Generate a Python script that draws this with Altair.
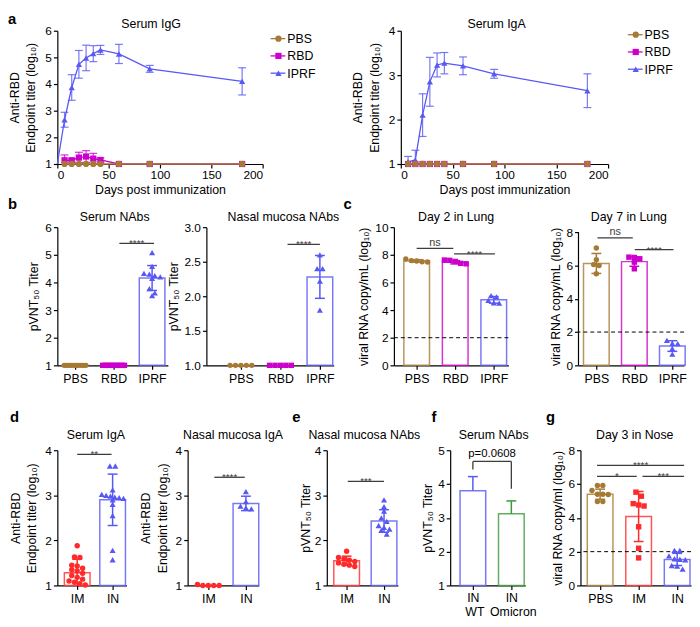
import json
import altair as alt
import pandas as pd

FONT = "Liberation Sans"
C_PBS = "#A67A35"
C_RBD = "#CC00CC"
C_IPRF = "#5858F5"
C_IM = "#FF2A2A"
C_OMI = "#3A9A3A"
C_SIG = "#3C3C3C"

# ---------------- a: time courses ----------------
days = [7, 14, 21, 28, 35, 42, 60, 90, 180]
igg_pbs = [1.0] * 9
igg_pbs_sd = [0] * 9
igg_rbd = [1.14, 1.14, 1.24, 1.28, 1.20, 1.15, 1.0, 1.0, 1.0]
igg_rbd_sd = [0.20, 0.07, 0.20, 0.22, 0.20, 0.08, 0, 0, 0]
igg_iprf = [2.66, 3.87, 4.74, 4.98, 5.14, 5.28, 5.13, 4.57, 4.10]
igg_iprf_sd = [0.28, 0.48, 0.52, 0.48, 0.30, 0.17, 0.36, 0.13, 0.51]
igg_iprf_day0 = 1.0
iga_pbs = [1.0] * 9
iga_rbd = [1.0] * 9
iga_zero_sd = [0] * 9
iga_iprf = [1.05, 1.09, 2.10, 2.85, 3.23, 3.27, 3.21, 3.03, 2.65]
iga_iprf_sd = [0.12, 0.22, 0.48, 0.55, 0.27, 0.24, 0.20, 0.10, 0.38]
legend_groups = ["PBS", "RBD", "IPRF"]

# ---------------- b ----------------
b_groups = ["PBS", "RBD", "IPRF"]
serum_nab_pbs = [1.0] * 10
serum_nab_rbd = [1.0] * 10
serum_nab_iprf = [5.08, 4.58, 4.33, 4.30, 4.25, 4.20, 4.15, 3.78, 3.62, 3.52]
serum_nab_mean = [1.0, 1.0, 4.16]
serum_nab_sd = [0, 0, 0.45]
nasal_nab_pbs = [1.0] * 5
nasal_nab_rbd = [1.0] * 5
nasal_nab_iprf = [2.60, 2.40, 2.40, 2.22, 1.80]
nasal_nab_mean = [1.0, 1.0, 2.28]
nasal_nab_sd = [0, 0, 0.31]

# ---------------- c ----------------
lung_d2_pbs = [7.70, 7.58, 7.55, 7.50, 7.48]
lung_d2_rbd = [7.62, 7.60, 7.52, 7.38, 7.35]
lung_d2_iprf = [5.05, 4.95, 4.70, 4.52, 4.50]
lung_d2_mean = [7.56, 7.46, 4.74]
lung_d2_sd = [0.09, 0.12, 0.24]
lung_d7_pbs = [7.05, 6.35, 6.05, 6.00, 5.50]
lung_d7_rbd = [6.50, 6.48, 6.40, 6.20, 5.80]
lung_d7_iprf = [1.50, 1.32, 1.30, 1.00, 0.67]
lung_d7_mean = [6.12, 6.23, 1.16]
lung_d7_sd = [0.60, 0.28, 0.32]

# ---------------- d / e ----------------
route_groups = ["IM", "IN"]
serum_iga_im = [1.88, 1.63, 1.62, 1.45, 1.43, 1.38, 1.35, 1.32, 1.27, 1.22, 1.18, 1.14, 1.10, 1.07, 1.04, 1.01]
serum_iga_in = [3.65, 3.65, 3.12, 3.02, 3.00, 2.98, 2.96, 2.95, 2.93, 2.90, 2.80, 2.55, 1.78, 1.57]
serum_iga_mean = [1.28, 2.90]
serum_iga_sd = [0.30, 0.57]
nasal_iga_im = [1.02, 1.0, 1.0, 1.0, 1.0]
nasal_iga_in = [3.08, 2.86, 2.76, 2.72, 2.70]
nasal_iga_mean = [1.0, 2.82]
nasal_iga_sd = [0, 0.16]
nasal_nab2_im = [1.76, 1.62, 1.59, 1.56, 1.53, 1.50, 1.47, 1.45, 1.42]
nasal_nab2_in = [2.90, 2.75, 2.65, 2.50, 2.42, 2.33, 2.29, 2.25, 2.22, 2.14]
nasal_nab2_mean = [1.55, 2.43]
nasal_nab2_sd = [0.10, 0.25]

# ---------------- f ----------------
variant_route = ["IN", "IN"]
variant_names = ["WT", "Omicron"]
variant_mean = [3.80, 3.12]
variant_sd = [0.42, 0.38]
variant_p = "p=0.0608"
bracket_y = 4.67
bracket_left_end = 4.43
bracket_right_end = 3.86

# ---------------- g ----------------
g_groups = ["PBS", "IM", "IN"]
nose_pbs = [5.92, 5.92, 5.62, 5.40, 5.40, 5.38, 4.96, 4.96]
nose_im = [5.52, 5.28, 4.84, 4.76, 4.70, 3.47, 2.20, 1.63]
nose_in = [2.08, 2.08, 1.75, 1.58, 1.55, 1.52, 1.18, 1.15, 0.97]
nose_mean = [5.40, 4.08, 1.54]
nose_sd = [0.30, 1.48, 0.36]

# significance annotations: (from, to, level, label)
sig_b1 = [(1.15, 2.05, 5.41, "****")]
sig_b2 = [(1.18, 2.0, 2.75, "****")]
sig_c1 = [(0.0, 0.95, 8.47, "ns"), (0.97, 2.03, 8.07, "****")]
sig_c2 = [(0.03, 0.96, 7.66, "ns"), (1.01, 2.03, 6.95, "****")]
sig_d1 = [(0.0, 0.97, 3.91, "**")]
sig_d2 = [(0.16, 0.97, 3.40, "****")]
sig_e = [(0.03, 1.0, 3.31, "***")]
sig_g = [(-0.08, 2.18, 7.10, "****"), (-0.08, 0.95, 6.45, "*"), (1.10, 2.18, 6.45, "***")]

H1, H2, H3 = 135, 140, 137
GRP_COL = {"PBS": C_PBS, "RBD": C_RBD, "IPRF": C_IPRF}
GRP_SHP = {"PBS": "circle", "RBD": "square", "IPRF": "triangle-up"}


def txt(t, x, y, size=12.5, weight="normal", align="center", color="black"):
    return alt.Chart(pd.DataFrame({"t": [t]})).mark_text(
        font=FONT, fontSize=size, fontWeight=weight, align=align,
        baseline="alphabetic", color=color
    ).encode(text="t:N", x=alt.value(x), y=alt.value(y))


def swarm_offsets(vals, ypx, maxw=22.0, gap=5.5, tol=4.5):
    order = sorted(range(len(vals)), key=lambda i: -vals[i])
    rows = []
    for i in order:
        if rows and (vals[rows[-1][0]] - vals[i]) * ypx <= tol:
            rows[-1].append(i)
        else:
            rows.append([i])
    off = [0.0] * len(vals)
    for r in rows:
        n = len(r)
        if n > 1:
            sp = min(gap, maxw / (n - 1))
            for k, i in enumerate(r):
                off[i] = (k - (n - 1) / 2) * sp
    return off


def legend_layers(x0, y0, step=17.5):
    out = []
    dummy = pd.DataFrame({"k": [0]})
    for k, g in enumerate(legend_groups):
        yy = y0 + k * step
        out.append(alt.Chart(dummy).mark_rule(color=GRP_COL[g], strokeWidth=1.3).encode(
            x=alt.value(x0), x2=alt.value(x0 + 15), y=alt.value(yy)))
        out.append(alt.Chart(dummy).mark_point(shape=GRP_SHP[g], filled=True, size=40, opacity=1,
                                               color=GRP_COL[g]).encode(
            x=alt.value(x0 + 8), y=alt.value(yy)))
        out.append(txt(g, x0 + 17, yy + 4.5, size=12.5, align="left"))
    return out


def time_panel(groups, ydom, yticks, title, w, h, title_dx, leg_xy, letter=None, letter_xy=(0, 0)):
    rows, lines = [], []
    for name, vals, sds, start in groups:
        if start is not None:
            lines.append({"day": 0, "val": start, "ln": name})
        for d, v, s in zip(days, vals, sds):
            rows.append({"day": d, "val": v, "sd": s, "lo": max(v - s, ydom[0]),
                         "hi": v + s, "grp": name, "ln": name, "haslo": (v - s) > ydom[0]})
            lines.append({"day": d, "val": v, "ln": name})
    df = pd.DataFrame(rows)
    ldf = pd.DataFrame(lines)
    edf = df[df.sd > 0]
    caps = [{"day": r.day, "y": r.hi, "ln": r.ln} for r in edf.itertuples()]
    caps += [{"day": r.day, "y": r.lo, "ln": r.ln} for r in edf.itertuples() if r.haslo]
    cdf = pd.DataFrame(caps)
    xsc = alt.Scale(domain=[0, 200], nice=False, padding=0)
    ysc = alt.Scale(domain=list(ydom), nice=False, zero=False, padding=0)
    xax = alt.Axis(values=[0, 50, 100, 150, 200], title="Days post immunization", titlePadding=3)
    yax = alt.Axis(values=yticks, format="d", title=["Anti-RBD", "Endpoint titer (log₁₀)"],
                   titleLineHeight=17, titlePadding=7)

    def X(f):
        return alt.X(f, type="quantitative", scale=xsc, axis=xax)

    def Y(f):
        return alt.Y(f, type="quantitative", scale=ysc, axis=yax)

    dom = legend_groups
    rng = [GRP_COL[g] for g in dom]
    stroke = alt.Stroke("ln:N", scale=alt.Scale(domain=dom, range=rng), legend=None)
    color = alt.Color("grp:N", scale=alt.Scale(domain=dom, range=rng), legend=None)
    shape = alt.Shape("grp:N", scale=alt.Scale(domain=dom, range=[GRP_SHP[g] for g in dom]), legend=None)
    layers = [
        alt.Chart(ldf).mark_line(strokeWidth=1.3).encode(x=X("day"), y=Y("val"), stroke=stroke),
        alt.Chart(edf).mark_rule(strokeWidth=1.2, strokeOpacity=0.8).encode(
            x=X("day"), y=Y("lo"), y2=alt.Y2("hi"), stroke=stroke),
        alt.Chart(cdf).mark_rule(strokeWidth=1.2, strokeOpacity=0.8, xOffset=-4, x2Offset=4).encode(
            x=X("day"), x2=alt.X2("day"), y=Y("y"), stroke=stroke),
        alt.Chart(df).mark_point(filled=True, size=40, opacity=1).encode(
            x=X("day"), y=Y("val"), color=color, shape=shape),
        txt(title, w / 2 + title_dx, -3),
    ]
    layers += legend_layers(leg_xy[0], leg_xy[1])
    if letter:
        layers.append(txt(letter, letter_xy[0], letter_xy[1], size=15, weight="bold", align="left"))
    return alt.layer(*layers).properties(width=w, height=h)


def bar_panel(labels, cols, shps, pts, means, sds, ydom, yticks, ytitle, title, w, h, xdom,
              title_dx=0.0, title_y=-6, letter=None, letter_xy=(0, 0), sigs=(), dashed=None,
              yfmt="d", up_only=False, bracket=None, ytitle_pad=4, yaxis_top=None, sublabels=None):
    n = len(labels)
    ypx = h / (ydom[1] - ydom[0])
    xpx = w / (xdom[1] - xdom[0])
    xsc = alt.Scale(domain=list(xdom), nice=False, zero=False, padding=0)
    ysc = alt.Scale(domain=list(ydom), nice=False, zero=False, padding=0)
    xax = alt.Axis(values=list(range(n)), labelExpr=json.dumps(labels) + "[datum.value]",
                   title=None, labelFontSize=12.5, labelPadding=2 if sublabels else 3)
    yax = alt.Axis(values=yticks, format=yfmt, title=ytitle, titlePadding=ytitle_pad,
                   titleLineHeight=17, domain=yaxis_top is None)

    def X(f):
        return alt.X(f, type="quantitative", scale=xsc, axis=xax)

    def Y(f):
        return alt.Y(f, type="quantitative", scale=ysc, axis=yax)

    layers = []
    bdf = pd.DataFrame({"x": list(range(n)), "m": means, "b": ydom[0], "c": cols})
    bdf = bdf[bdf.m > ydom[0]]
    layers.append(alt.Chart(bdf).mark_bar(size=26, fill="white", strokeWidth=1.5, strokeOpacity=0.8).encode(
        x=X("x"), y=Y("m"), y2=alt.Y2("b"), stroke=alt.Stroke("c:N", scale=None)))
    if yaxis_top is not None:
        layers.append(alt.Chart(pd.DataFrame({"x": [xdom[0]], "y0": [ydom[0]], "y1": [yaxis_top]})).mark_rule(
            color="black", strokeWidth=1.2).encode(x=X("x"), y=Y("y0"), y2=alt.Y2("y1")))
    if dashed is not None:
        layers.append(alt.Chart(pd.DataFrame({"v": [dashed]})).mark_rule(
            color="black", strokeDash=[4, 3], strokeWidth=1).encode(y=Y("v")))
    if pts:
        prow = []
        for i, vals in enumerate(pts):
            offs = swarm_offsets(vals, ypx)
            for v, o in zip(vals, offs):
                prow.append({"x": i + o / xpx, "v": v, "c": cols[i], "s": shps[i],
                             "z": 38 if shps[i] == "triangle-up" else 30})
        pdf = pd.DataFrame(prow)
        layers.append(alt.Chart(pdf).mark_point(filled=True, opacity=1).encode(
            x=X("x"), y=Y("v"), color=alt.Color("c:N", scale=None),
            shape=alt.Shape("s:N", scale=None), size=alt.Size("z:Q", scale=None)))
    erows, crows = [], []
    for i in range(n):
        if sds[i] > 0:
            m, s = means[i], sds[i]
            lo = m if up_only else max(m - s, ydom[0])
            erows.append({"x": i, "lo": lo, "hi": m + s, "c": cols[i]})
            crows.append({"x": i, "y": m + s, "c": cols[i]})
            if not up_only and m - s > ydom[0]:
                crows.append({"x": i, "y": m - s, "c": cols[i]})
    if erows:
        layers.append(alt.Chart(pd.DataFrame(erows)).mark_rule(strokeWidth=1.5).encode(
            x=X("x"), y=Y("lo"), y2=alt.Y2("hi"), color=alt.Color("c:N", scale=None)))
        layers.append(alt.Chart(pd.DataFrame(crows)).mark_rule(strokeWidth=1.5, xOffset=-5, x2Offset=5).encode(
            x=X("x"), x2=alt.X2("x"), y=Y("y"), color=alt.Color("c:N", scale=None)))
    if sigs:
        sdf = pd.DataFrame(list(sigs), columns=["x1", "x2", "y", "lab"])
        sdf["xm"] = (sdf.x1 + sdf.x2) / 2
        layers.append(alt.Chart(sdf).mark_rule(color=C_SIG, strokeWidth=1.3).encode(
            x=X("x1"), x2=alt.X2("x2"), y=Y("y")))
        stars = sdf[sdf.lab.str.startswith("*")]
        other = sdf[~sdf.lab.str.startswith("*")]
        if len(stars):
            layers.append(alt.Chart(stars).mark_text(font=FONT, fontSize=10, dy=3, color=C_SIG,
                                                     baseline="alphabetic").encode(
                x=X("xm"), y=Y("y"), text="lab:N"))
        if len(other):
            layers.append(alt.Chart(other).mark_text(font=FONT, fontSize=11, dy=-2.5, color=C_SIG,
                                                     baseline="alphabetic").encode(
                x=X("xm"), y=Y("y"), text="lab:N"))
    if bracket is not None:
        by, bl, br, lab = bracket
        rdf = pd.DataFrame({"x": [0, 0, 1], "x2": [0, 1, 1], "y": [bl, by, br], "y2": [by, by, by]})
        layers.append(alt.Chart(rdf).mark_rule(color=C_SIG, strokeWidth=1.3).encode(
            x=X("x"), x2=alt.X2("x2"), y=Y("y"), y2=alt.Y2("y2")))
        layers.append(alt.Chart(pd.DataFrame({"x": [0.5], "y": [by], "t": [lab]})).mark_text(
            font=FONT, fontSize=11.5, dy=-4, color="black", baseline="alphabetic").encode(
            x=X("x"), y=Y("y"), text="t:N"))
    if sublabels:
        layers.append(alt.Chart(pd.DataFrame({"x": list(range(n)), "t": sublabels})).mark_text(
            font=FONT, fontSize=12.5, dx=2, color="black", baseline="alphabetic").encode(
            x=X("x"), y=alt.value(h + 31), text="t:N"))
    layers.append(txt(title, w / 2 + title_dx, title_y))
    if letter:
        layers.append(txt(letter, letter_xy[0], letter_xy[1], size=15, weight="bold", align="left"))
    return alt.layer(*layers).properties(width=w, height=h)


# ---------------- build panels ----------------
a1 = time_panel([("IPRF", igg_iprf, igg_iprf_sd, igg_iprf_day0), ("RBD", igg_rbd, igg_rbd_sd, None),
                 ("PBS", igg_pbs, igg_pbs_sd, None)], (1, 6), [1, 2, 3, 4, 5, 6], "Serum IgG",
                208, H1, -9, (216, 8), letter="a", letter_xy=(-50, -7))
a2 = time_panel([("IPRF", iga_iprf, iga_iprf_sd, None), ("RBD", iga_rbd, iga_zero_sd, None),
                 ("PBS", iga_pbs, iga_zero_sd, None)], (1, 4), [1, 2, 3, 4], "Serum IgA",
                210, H1, -8, (230, 4))

bcols = [C_PBS, C_RBD, C_IPRF]
bshp = ["circle", "square", "triangle-up"]
PV = "pVNT₅₀ Titer"
b1 = bar_panel(b_groups, bcols, bshp, [serum_nab_pbs, serum_nab_rbd, serum_nab_iprf], serum_nab_mean,
               serum_nab_sd, (1, 6), [1, 2, 3, 4, 5, 6], PV, "Serum NAbs", 112, H2, (-0.46, 2.41),
               title_dx=2, title_y=-6, letter="b", letter_xy=(-50, -18), sigs=sig_b1)
b2 = bar_panel(b_groups, bcols, bshp, [nasal_nab_pbs, nasal_nab_rbd, nasal_nab_iprf], nasal_nab_mean,
               nasal_nab_sd, (1, 3), [1, 1.5, 2, 2.5, 3], PV, "Nasal mucosa NAbs", 129, H2, (-0.875, 2.35),
               title_dx=13.5, title_y=-6, sigs=sig_b2, yfmt=".1f")
c1 = bar_panel(b_groups, bcols, bshp, [lung_d2_pbs, lung_d2_rbd, lung_d2_iprf], lung_d2_mean, lung_d2_sd,
               (0, 10), [0, 2, 4, 6, 8, 10], "viral RNA copy/mL (log₁₀)", "Day 2 in Lung", 116, H2,
               (-0.59, 2.38), title_dx=5, title_y=-6, letter="c", letter_xy=(-51, -18), sigs=sig_c1, dashed=2)
c2 = bar_panel(b_groups, bcols, bshp, [lung_d7_pbs, lung_d7_rbd, lung_d7_iprf], lung_d7_mean, lung_d7_sd,
               (0, 8.3), [0, 2, 4, 6, 8], "viral RNA copy/mL (log₁₀)", "Day 7 in Lung", 107, H2,
               (-0.47, 2.31), title_dx=-2.5, title_y=-6, sigs=sig_c2, dashed=2, yaxis_top=8)

rcols = [C_IM, C_IPRF]
rshp = ["circle", "triangle-up"]
AR = ["Anti-RBD", "Endpoint titer (log₁₀)"]
d1 = bar_panel(route_groups, rcols, rshp, [serum_iga_im, serum_iga_in], serum_iga_mean, serum_iga_sd,
               (1, 4), [1, 2, 3, 4], AR, "Serum IgA", 70, H3, (-0.56, 1.39), title_dx=4, title_y=-11,
               letter="d", letter_xy=(-48, -29), sigs=sig_d1, ytitle_pad=6)
d2 = bar_panel(route_groups, rcols, rshp, [nasal_iga_im, nasal_iga_in], nasal_iga_mean, nasal_iga_sd,
               (1, 4), [1, 2, 3, 4], AR, "Nasal mucosa IgA", 72, H3, (-0.55, 1.34), title_dx=10,
               title_y=-11, sigs=sig_d2, ytitle_pad=6)
e1 = bar_panel(route_groups, rcols, rshp, [nasal_nab2_im, nasal_nab2_in], nasal_nab2_mean, nasal_nab2_sd,
               (1, 4), [1, 2, 3, 4], PV, "Nasal mucosa NAbs", 72, H3, (-0.53, 1.37), title_dx=2,
               title_y=-11, letter="e", letter_xy=(-35, -29), sigs=sig_e, ytitle_pad=2)
f1 = bar_panel(variant_route, [C_IPRF, C_OMI], ["circle", "circle"], None, variant_mean, variant_sd,
               (1, 5), [1, 2, 3, 4, 5], PV, "Serum NAbs", 76, H3, (-0.59, 1.36), title_dx=6,
               title_y=-11, letter="f", letter_xy=(-19, -29), up_only=True, ytitle_pad=3,
               bracket=(bracket_y, bracket_left_end, bracket_right_end, variant_p),
               sublabels=variant_names)
g1 = bar_panel(g_groups, [C_PBS, C_IM, C_IPRF], ["circle", "square", "triangle-up"], [nose_pbs, nose_im, nose_in],
               nose_mean, nose_sd, (0, 8), [0, 2, 4, 6, 8], "viral RNA copy/ml (log₁₀)", "Day 3 in Nose", 112, H3,
               (-0.51, 2.36), title_dx=-1, title_y=-11, letter="g", letter_xy=(-35, -29), sigs=sig_g, dashed=2)

row1 = alt.hconcat(a1, a2, spacing=140, bounds="flush").resolve_scale(
    color="independent", shape="independent", stroke="independent")
row2 = alt.hconcat(alt.hconcat(b1, b2, spacing=39, bounds="flush"),
                   alt.hconcat(c1, c2, spacing=71, bounds="flush"), spacing=4)
row3 = alt.hconcat(alt.hconcat(d1, d2, spacing=62, bounds="flush"),
                   alt.hconcat(e1, f1, spacing=53, bounds="flush"), g1, spacing=9)

chart = alt.vconcat(alt.vconcat(row1, row2, spacing=1), row3, spacing=25).properties(
    padding=0
).configure(font=FONT).configure_view(stroke=None).configure_axis(
    labelFont=FONT, titleFont=FONT, labelFontSize=12, titleFontSize=12.5, titleFontWeight="normal",
    domainColor="black", tickColor="black", labelColor="black", titleColor="black",
    tickSize=4, domainWidth=1.2, tickWidth=1.2, grid=False, labelPadding=2, titlePadding=4
)

chart.save("out.html", embed_options={"renderer": "svg", "actions": False})
